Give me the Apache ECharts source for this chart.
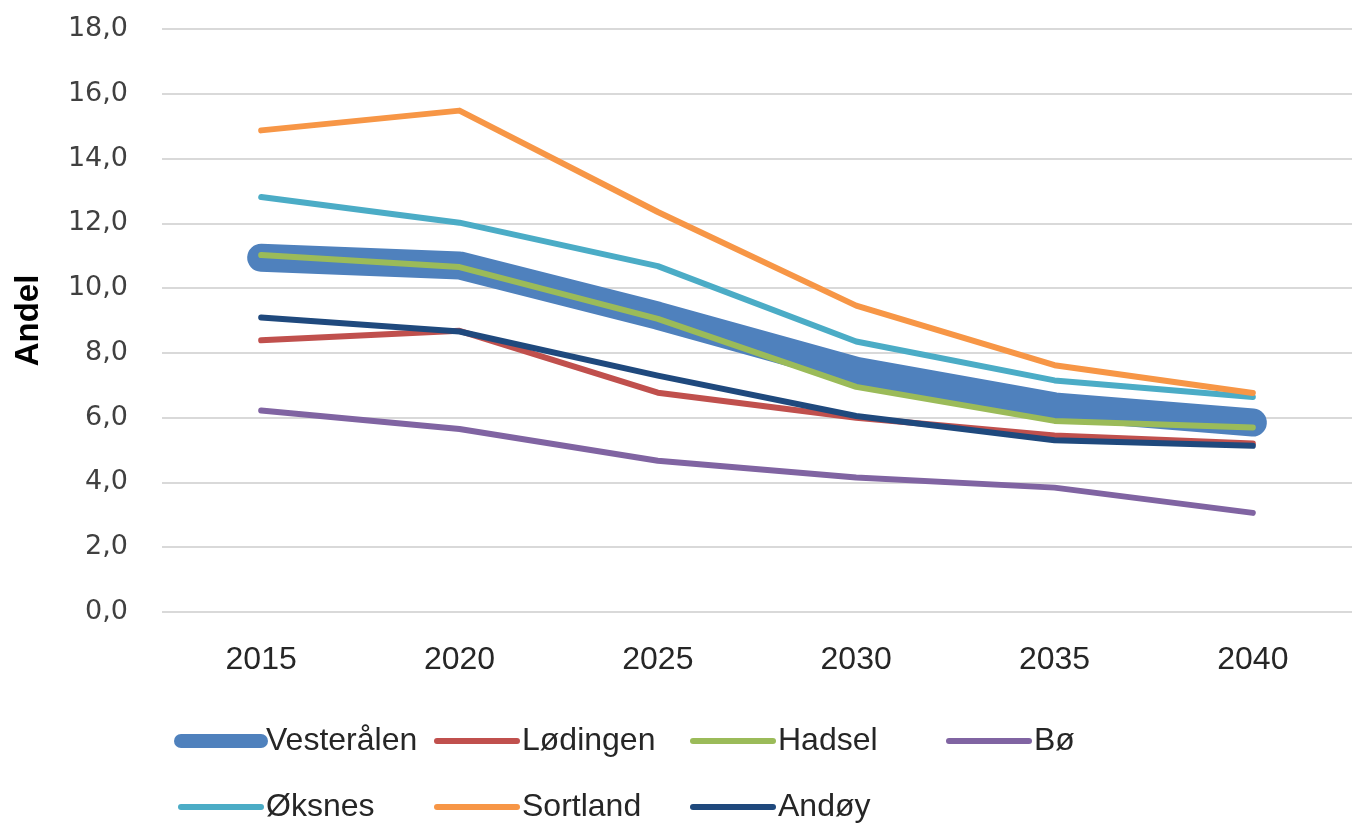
<!DOCTYPE html>
<html>
<head>
<meta charset="utf-8">
<script src="https://cdn.jsdelivr.net/npm/echarts@6/dist/echarts.min.js"></script>
<style>
  html, body { margin: 0; padding: 0; background: #fff; }
  #chart { width: 1352px; height: 823px; }
</style>
</head>
<body>
<div id="chart"></div>
<script>
// Share (Andel) per municipality, 2015-2040
const years = ['2015', '2020', '2025', '2030', '2035', '2040'];
const yTicks = [0, 2, 4, 6, 8, 10, 12, 14, 16, 18];

const vesteralen = [10.94, 10.70, 9.15, 7.45, 6.35, 5.85];
const lodingen   = [8.39, 8.68, 6.77, 6.00, 5.45, 5.20];
const hadsel     = [11.02, 10.65, 9.05, 6.95, 5.90, 5.70];
const bo         = [6.22, 5.65, 4.67, 4.15, 3.84, 3.06];
const oksnes     = [12.81, 12.02, 10.68, 8.35, 7.15, 6.64];
const sortland   = [14.87, 15.48, 12.35, 9.46, 7.62, 6.76];
const andoy      = [9.09, 8.66, 7.30, 6.05, 5.30, 5.13];

const seriesDefs = [
    { name: 'Vesterålen', data: vesteralen, color: '#4F81BD', width: 28, legendWidth: 14 },
    { name: 'Lødingen',   data: lodingen,   color: '#C0504D', width: 6,  legendWidth: 6 },
    { name: 'Hadsel',     data: hadsel,     color: '#9BBB59', width: 6,  legendWidth: 6 },
    { name: 'Bø',         data: bo,         color: '#8064A2', width: 6,  legendWidth: 6 },
    { name: 'Øksnes',     data: oksnes,     color: '#4BACC6', width: 6,  legendWidth: 6 },
    { name: 'Sortland',   data: sortland,   color: '#F79646', width: 6,  legendWidth: 6 },
    { name: 'Andøy',      data: andoy,      color: '#1F497D', width: 6,  legendWidth: 6 }
];

const chart = echarts.init(document.getElementById('chart'), null, { renderer: 'canvas' });

const option = {
    backgroundColor: '#ffffff',
    animation: false,
    grid: {
        left: 162,
        top: 29,
        width: 1206,
        height: 583,
        containLabel: false
    },
    legend: {
        left: 174,
        top: 708,
        padding: 0,
        width: 1030,
        itemWidth: 80,
        itemHeight: 14,
        itemGap: 0,
        orient: 'horizontal',
        textStyle: {
            fontFamily: 'Liberation Sans',
            fontSize: 32,
            color: '#262626',
            width: 168,
            lineHeight: 66
        },
        data: seriesDefs.map(s => ({
            name: s.name,
            itemStyle: { opacity: 0 },
            lineStyle: { width: s.legendWidth, color: s.color, cap: 'round' }
        }))
    },
    xAxis: {
        type: 'category',
        data: years,
        boundaryGap: true,
        axisLine: { show: false },
        axisTick: { show: false },
        axisLabel: {
            margin: 32,
            fontFamily: 'Liberation Sans',
            fontSize: 32,
            color: '#262626'
        }
    },
    yAxis: {
        type: 'value',
        min: yTicks[0],
        max: yTicks[yTicks.length - 1],
        interval: 2,
        name: 'Andel',
        nameLocation: 'middle',
        nameGap: 117,
        nameRotate: 90,
        nameTextStyle: {
            fontFamily: 'Liberation Sans',
            fontSize: 33,
            fontWeight: 'bold',
            color: '#000'
        },
        axisLine: { show: false },
        axisTick: { show: false },
        splitLine: { lineStyle: { color: '#d9d9d9', width: 2 } },
        axisLabel: {
            margin: 34,
            fontFamily: 'DejaVu Sans',
            fontSize: 27,
            color: '#404040',
            formatter: v => v.toFixed(1).replace('.', ',')
        }
    },
    series: seriesDefs.map(s => ({
        name: s.name,
        type: 'line',
        data: s.data,
        symbol: 'none',
        color: s.color,
        lineStyle: { width: s.width, color: s.color, cap: 'round', join: 'round' }
    }))
};

chart.setOption(option);
</script>
</body>
</html>
